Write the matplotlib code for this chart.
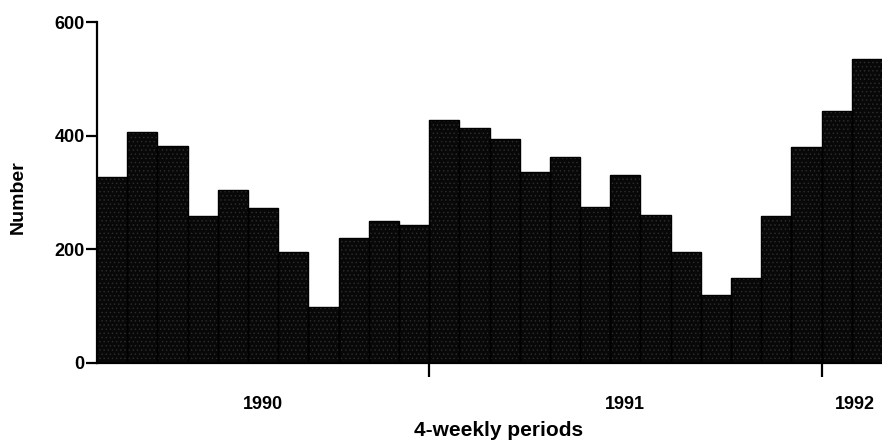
import matplotlib
matplotlib.use("Agg")
import matplotlib.pyplot as plt
import numpy as np

plt.rcParams['font.family'] = ['Liberation Sans', 'DejaVu Sans']
plt.rcParams['hatch.linewidth'] = 0.5

# 4-weekly counts, 26 periods (1990 partial, 1991 full, start of 1992)
counts = [327, 406, 381, 259, 305, 272, 195, 98, 219, 250, 242,
          427, 414, 395, 336, 363, 274, 330, 260, 196, 120, 150, 258, 380,
          443, 535]
year_breaks = [11, 24]
year_labels = ["1990", "1991", "1992"]
year_label_pos = [5.5, 17.5, 25.1]
y_ticks = [0, 200, 400, 600]

periods = np.arange(len(counts))

fig = plt.figure(figsize=(8.82, 4.42), dpi=100)
ax = fig.add_axes([0.110, 0.179, 0.890, 0.771])

ax.bar(periods, counts, width=1.0, align='edge', color='#080808',
       edgecolor='#2e2e2e', hatch='....', linewidth=0)
# outline of the bars
ax.bar(periods, counts, width=1.0, align='edge', fill=False,
       edgecolor='black', linewidth=1.0)

ax.set_xlim(0, len(counts))
ax.set_ylim(0, 600)

ax.spines['top'].set_visible(False)
ax.spines['right'].set_visible(False)
for s in ['left', 'bottom']:
    ax.spines[s].set_linewidth(1.6)

ax.set_yticks(y_ticks)
ax.tick_params(axis='y', length=8, width=1.6, pad=1, labelsize=13)
for lab in ax.get_yticklabels():
    lab.set_fontweight('bold')

ax.set_xticks(year_breaks)
ax.set_xticklabels([])
ax.tick_params(axis='x', which='major', length=10, width=1.6)
ax.set_xticks(year_label_pos, minor=True)
ax.set_xticklabels(year_labels, minor=True, fontsize=13, fontweight='bold')
ax.tick_params(axis='x', which='minor', length=0, pad=24)

ax.set_xlabel("4-weekly periods", fontsize=15, fontweight='bold')
ax.xaxis.set_label_coords(0.511, -0.17)
ax.set_ylabel("Number", fontsize=14, fontweight='bold')
ax.yaxis.set_label_coords(-0.089, 0.487)

fig.savefig("out.png", dpi=100)
